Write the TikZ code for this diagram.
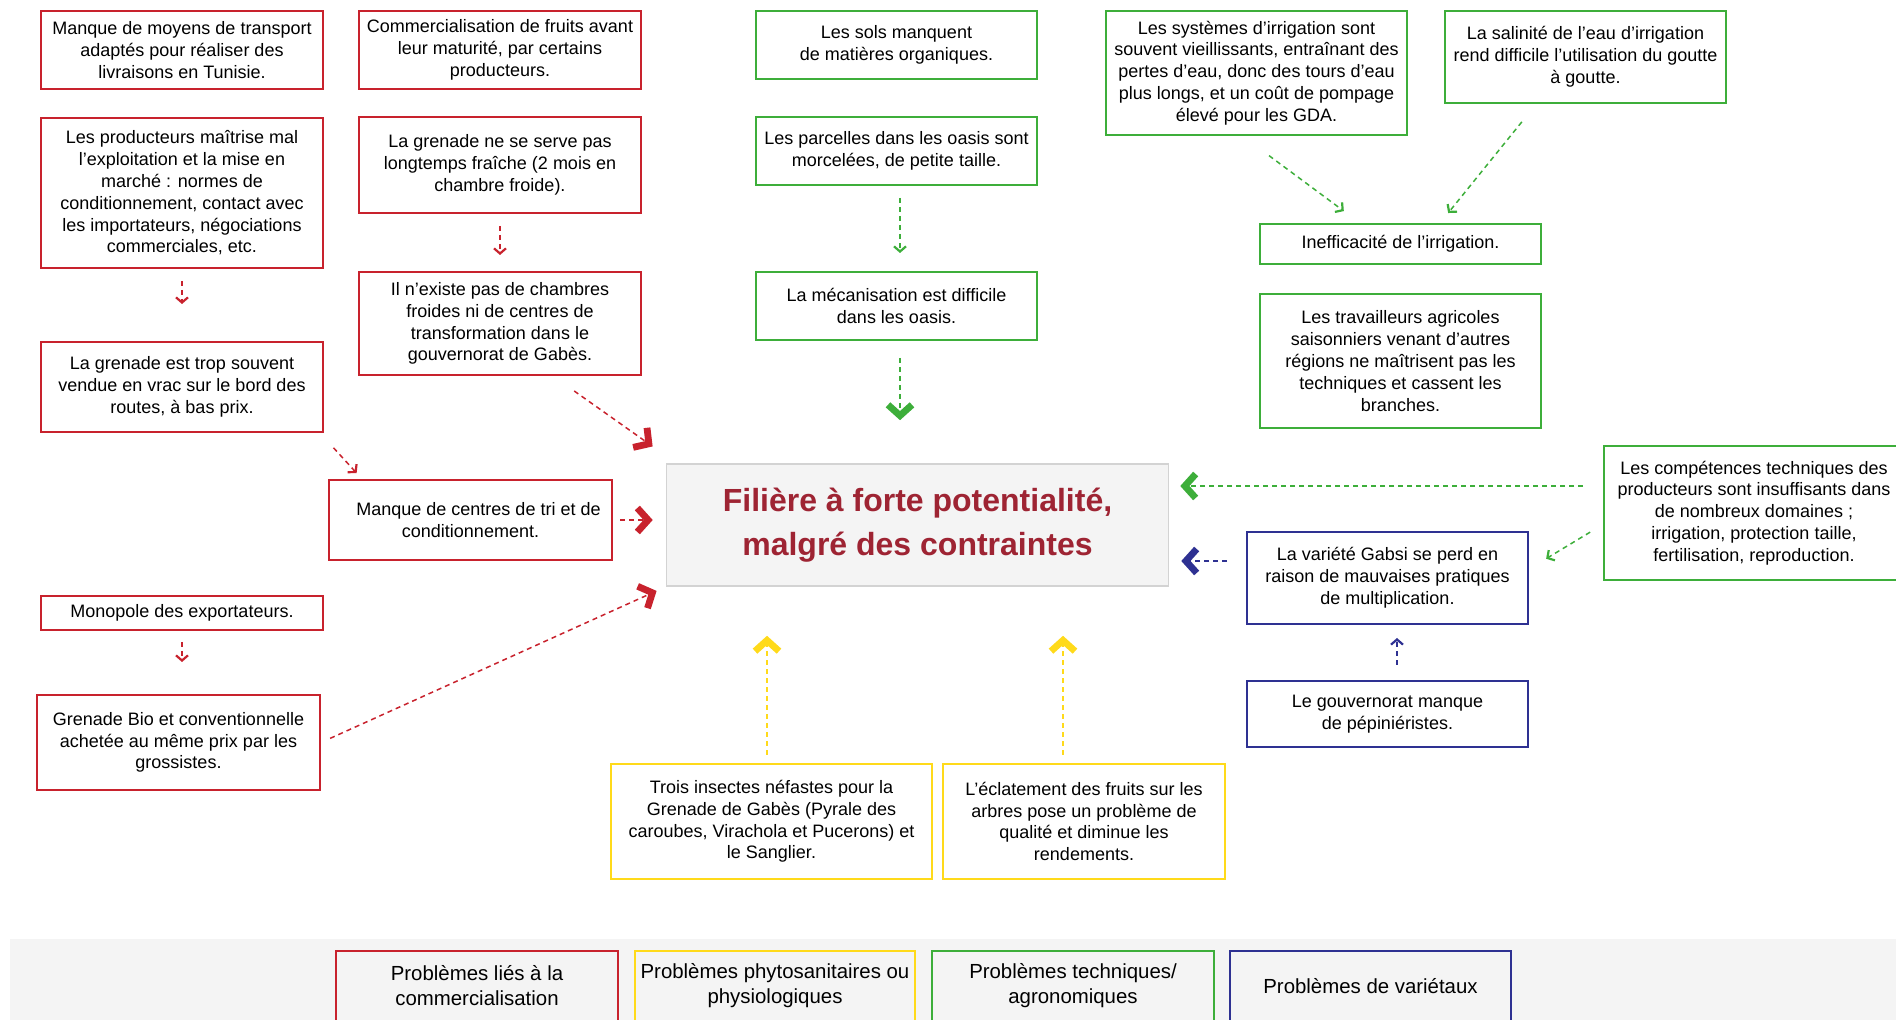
\documentclass[tikz,border=0pt]{standalone}
\usepackage{fontspec}
\setmainfont{Liberation Sans}
\usepackage{tikz}
\usetikzlibrary{arrows.meta,positioning,calc}
\definecolor{probred}{HTML}{C8222D}
\definecolor{probgreen}{HTML}{3DAE3A}
\definecolor{probyellow}{HTML}{FFDA1A}
\definecolor{probblue}{HTML}{2E3192}
\definecolor{titlered}{HTML}{9E2433}
\definecolor{panelgrey}{HTML}{F4F4F4}
\definecolor{edgegrey}{HTML}{D3D3D3}
\tikzset{
    every node/.style={font=\fontsize{9}{10.9}\selectfont},
    box/.style={draw,line width=1pt,fill=white,align=center,inner sep=0pt},
    redbox/.style={box,draw=probred},
    greenbox/.style={box,draw=probgreen},
    yellowbox/.style={box,draw=probyellow},
    bluebox/.style={box,draw=probblue},
    centrebox/.style={draw=edgegrey,line width=0.8pt,fill=panelgrey,align=center,inner sep=0pt,
        font=\fontsize{16}{21.8}\selectfont\bfseries,text=titlered},
    legendbox/.style={box,line width=1.2pt,fill=panelgrey,font=\fontsize{10.2}{12.5}\selectfont},
    link/.style={line width=0.75pt,dash pattern=on 2.5pt off 2pt,
        -{Straight Barb[length=2.6pt,width=6pt,line width=1.1pt,sharp]}},
    biglink/.style={link,-{Straight Barb[length=5.4pt,width=12pt,line width=3.4pt,sharp]}}
}
\begin{document}
\begin{tikzpicture}[x=0.5pt,y=-0.5pt]
    \useasboundingbox (0,0) rectangle (1896,1020);
    % red column
    \node[redbox,minimum width=141pt,minimum height=39pt] (A1) at (182,50)
        {Manque de moyens de transport\\adaptés pour réaliser des\\livraisons en Tunisie.};
    \node[redbox,minimum width=141pt,minimum height=75pt] (A2) at (182,193)
        {Les producteurs maîtrise mal\\l’exploitation et la mise en\\marché : normes de\\conditionnement, contact avec\\les importateurs, négociations\\commerciales, etc.};
    \node[redbox,minimum width=141pt,minimum height=45pt] (A3) at (182,387)
        {La grenade est trop souvent\\vendue en vrac sur le bord des\\routes, à bas prix.};
    \node[redbox,minimum width=141.5pt,minimum height=40pt] (A4) at (470.5,520)
        {\hspace*{8pt}Manque de centres de tri et de\\conditionnement.};
    \node[redbox,minimum width=141pt,minimum height=17pt] (A5) at (182,613)
        {Monopole des exportateurs.};
    \node[redbox,minimum width=141.5pt,minimum height=47.5pt] (A6) at (178.5,742.5)
        {Grenade Bio et conventionnelle\\achetée au même prix par les\\grossistes.};
    \node[redbox,minimum width=141pt,minimum height=39pt] (B1) at (500,50)
        {Commercialisation de fruits avant\\leur maturité, par certains\\producteurs.};
    \node[redbox,minimum width=141pt,minimum height=48pt] (B2) at (500,165)
        {La grenade ne se serve pas\\longtemps fraîche (2 mois en\\chambre froide).};
    \node[redbox,minimum width=141pt,minimum height=51.5pt] (B3) at (500,323.5)
        {Il n’existe pas de chambres\\froides ni de centres de\\transformation dans le\\gouvernorat de Gabès.};
    % centre
    \node[centrebox,minimum width=251pt,minimum height=61pt] (Centre) at (917.5,525)
        {Filière à forte potentialité,\\malgré des contraintes};
    % green
    \node[greenbox,minimum width=140.5pt,minimum height=34pt] (C1) at (896.5,45)
        {Les sols manquent\\de matières organiques.};
    \node[greenbox,minimum width=140.5pt,minimum height=34pt] (C2) at (896.5,151)
        {Les parcelles dans les oasis sont\\morcelées, de petite taille.};
    \node[greenbox,minimum width=140.5pt,minimum height=34pt] (C3) at (896.5,306)
        {La mécanisation est difficile\\dans les oasis.};
    \node[greenbox,minimum width=150.5pt,minimum height=62pt] (D1) at (1256.5,73)
        {Les systèmes d’irrigation sont\\souvent vieillissants, entraînant des\\pertes d’eau, donc des tours d’eau\\plus longs, et un coût de pompage\\élevé pour les GDA.};
    \node[greenbox,minimum width=140.5pt,minimum height=46pt] (D2) at (1585.5,57)
        {La salinité de l’eau d’irrigation\\rend difficile l’utilisation du goutte\\à goutte.};
    \node[greenbox,minimum width=140.5pt,minimum height=20pt] (D3) at (1400.5,244)
        {Inefficacité de l’irrigation.};
    \node[greenbox,minimum width=140.5pt,minimum height=67pt] (D4) at (1400.5,361)
        {Les travailleurs agricoles\\saisonniers venant d’autres\\régions ne maîtrisent pas les\\techniques et cassent les\\branches.};
    \node[greenbox,minimum width=150pt,minimum height=67pt] (D5) at (1754,513)
        {Les compétences techniques des\\producteurs sont insuffisants dans\\de nombreux domaines ;\\irrigation, protection taille,\\fertilisation, reproduction.};
    % blue
    \node[bluebox,minimum width=140.5pt,minimum height=46pt] (E1) at (1387.5,578)
        {La variété Gabsi se perd en\\raison de mauvaises pratiques\\de multiplication.};
    \node[bluebox,minimum width=140.5pt,minimum height=33pt] (E2) at (1387.5,714)
        {Le gouvernorat manque\\de pépiniéristes.};
    % yellow
    \node[yellowbox,minimum width=160.5pt,minimum height=57.5pt] (Y1) at (771.5,821.5)
        {Trois insectes néfastes pour la\\Grenade de Gabès (Pyrale des\\caroubes, Virachola et Pucerons) et\\le Sanglier.};
    \node[yellowbox,minimum width=141pt,minimum height=57.5pt] (Y2) at (1084,821.5)
        {L’éclatement des fruits sur les\\arbres pose un problème de\\qualité et diminue les\\rendements.};
    % links
    \draw[link,probred,shorten <=6pt,shorten >=18.5pt] (A2.south) -- (A3.north);
    \draw[link,probred,shorten <=10pt,shorten >=4pt] ([xshift=-2pt]A3.south east) -- ([xshift=17pt]A4.north west);
    \draw[biglink,probred,shorten <=3.5pt,shorten >=6.5pt] (A4.east) -- (A4.east -| Centre.west);
    \draw[link,probred,shorten <=5.5pt,shorten >=16pt] (A5.south) -- (A5.south |- A6.north);
    \draw[biglink,probred,shorten <=5pt,shorten >=5pt] (A6.east) -- (Centre.south west);
    \draw[link,probred,shorten <=6pt,shorten >=8pt] (B2.south) -- (B3.north);
    \draw[biglink,probred,shorten <=13pt,shorten >=14.5pt] ([xshift=26.5pt]B3.south) -- ([xshift=5.3pt]Centre.north west);
    \draw[link,probgreen,shorten <=6pt,shorten >=9pt] ([xshift=1.75pt]C2.south) -- ([xshift=1.75pt]C3.north);
    \draw[biglink,probgreen,shorten <=8.5pt,shorten >=21.5pt] ([xshift=1.75pt]C3.south) -- ([xshift=1.75pt]C3.south |- Centre.north);
    \draw[link,probgreen,shorten <=16.5pt,shorten >=10pt] ([xshift=-7pt]D1.south) -- ([xshift=-20.3pt]D3.north);
    \draw[link,probgreen,shorten <=11.5pt,shorten >=6.4pt] ([xshift=-24.6pt]D2.south) -- ([xshift=19.8pt]D3.north);
    \draw[biglink,probgreen,shorten <=10pt,shorten >=5.5pt] ([yshift=13.5pt]D5.west) -- ([yshift=13.5pt]D5.west -| Centre.east);
    \draw[link,probgreen,shorten <=7.5pt,shorten >=10pt] ([yshift=-5.7pt]D5.west) -- ([yshift=4.5pt]E1.east);
    \draw[biglink,probblue,shorten <=9.5pt,shorten >=6pt] ([yshift=8.5pt]E1.west) -- ([yshift=8.5pt]E1.west -| Centre.east);
    \draw[link,probblue,shorten <=7.5pt,shorten >=6.5pt] ([xshift=4.75pt]E2.north) -- ([xshift=4.75pt]E1.south);
    \draw[biglink,probyellow,shorten <=4pt,shorten >=24.5pt] ([xshift=-2.25pt]Y1.north) -- ([xshift=-2.25pt]Y1.north |- Centre.south);
    \draw[biglink,probyellow,shorten <=4pt,shorten >=24.5pt] ([xshift=-10.5pt]Y2.north) -- ([xshift=-10.5pt]Y2.north |- Centre.south);
    % legend
    \fill[panelgrey] (10,939) rectangle (1896,1020);
    \node[legendbox,draw=probred,minimum width=141pt,minimum height=35pt] (L1) at (477,986)
        {Problèmes liés à la\\commercialisation};
    \node[legendbox,draw=probyellow,minimum width=140pt,minimum height=35pt] (L2) at (775,986)
        {Problèmes phytosanitaires ou\\physiologiques};
    \node[legendbox,draw=probgreen,minimum width=141pt,minimum height=35pt] (L3) at (1073,986)
        {Problèmes techniques/\\agronomiques};
    \node[legendbox,draw=probblue,minimum width=140.5pt,minimum height=35pt] (L4) at (1370.5,986)
        {Problèmes de variétaux};
\end{tikzpicture}
\end{document}
